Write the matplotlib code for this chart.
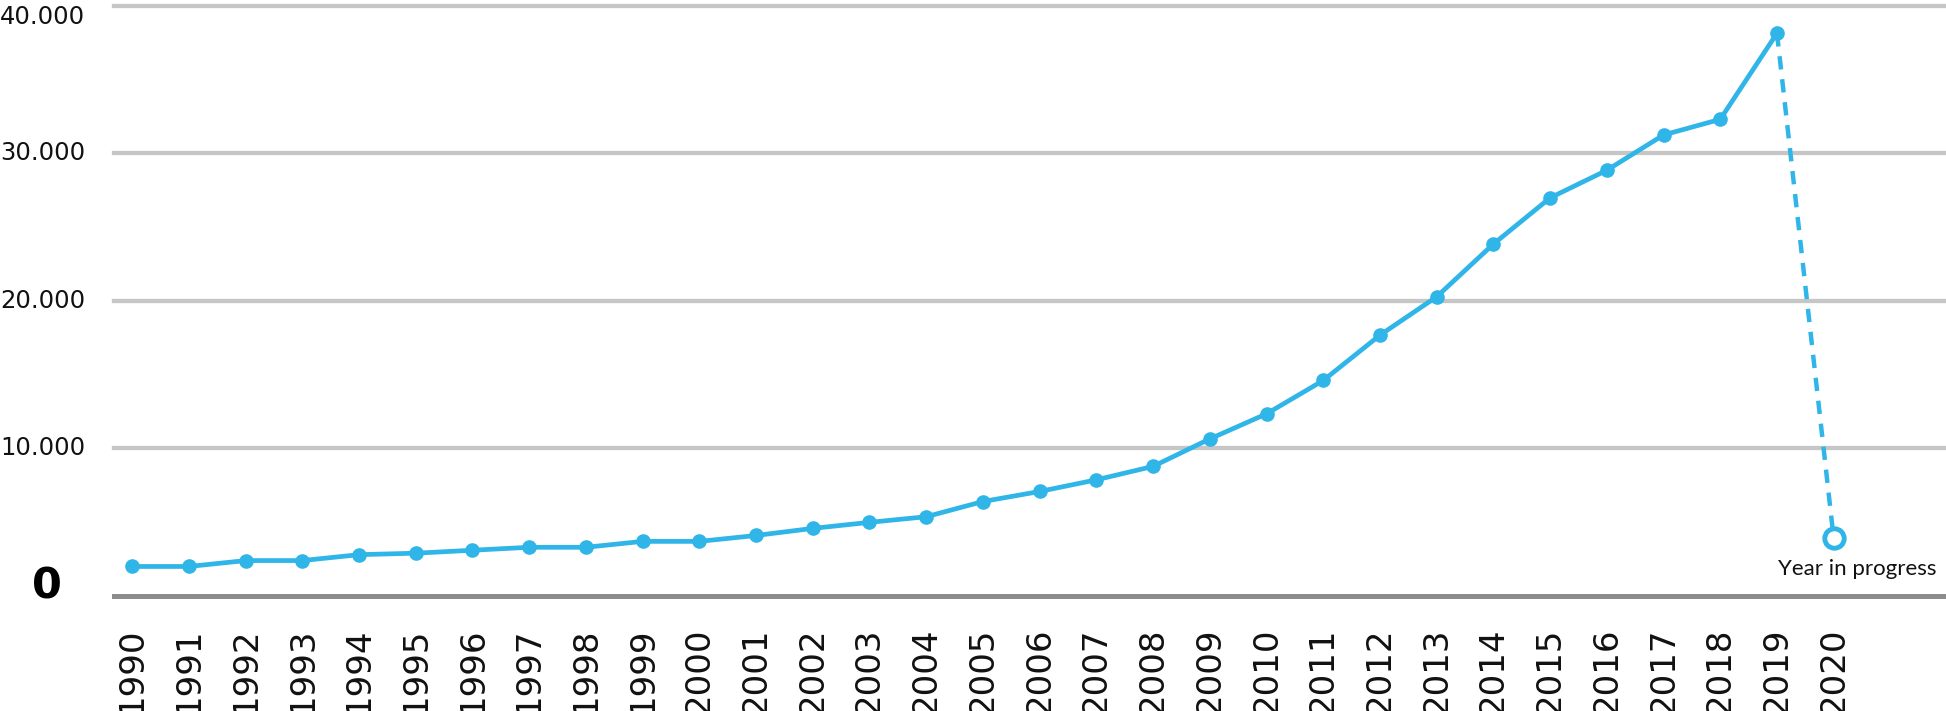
import matplotlib
matplotlib.use("Agg")
import matplotlib.pyplot as plt
from matplotlib.transforms import blended_transform_factory

# data
years = list(range(1990, 2021))
values = [2000, 2000, 2400, 2400, 2800, 2900, 3100, 3300, 3300, 3700,
          3700, 4100, 4580, 4990, 5370, 6400, 7080, 7870, 8780, 10640,
          12340, 14600, 17670, 20270, 23840, 26970, 28840, 31230, 32290, 38120,
          3900]
grid_values = [10000, 20000, 30000, 40000]
grid_labels = ["10.000", "20.000", "30.000", "40.000"]
note = "Year in progress"

BLUE = "#30b5e8"
W, H = 1946, 711

fig = plt.figure(figsize=(W / 100, H / 100), dpi=100)
ax = fig.add_axes([114 / W, (H - 596) / H, (W - 114) / W, (596 - 5.5) / H])
ax.set_xlim(1989.68, 2021.98)
ax.set_ylim(0, 40000)
for s in ax.spines.values():
    s.set_visible(False)

for g in grid_values:
    ax.axhline(g, color="#c6c6c6", lw=3.1, zorder=1, clip_on=False)
ax.axhline(0, color="#8c8c8c", lw=3.6, zorder=1, clip_on=False)

# solid line for complete years, dashed to the year in progress
ax.plot(years[:-1], values[:-1], color=BLUE, lw=3.4, marker="o", ms=9.5,
        zorder=3, clip_on=False, solid_capstyle="round")
ax.plot(years[-2:], values[-2:], color=BLUE, lw=3.2, dashes=(3, 2.2), zorder=2)
ax.plot(years[-1], values[-1], "o", ms=14, mfc="white", mec=BLUE, mew=3.5,
        zorder=4)
ax.annotate(note, (years[-1], values[-1]), xytext=(17, -22),
            textcoords="offset points", ha="center", va="center",
            fontsize=16, family="Lato", color="#111111")

ax.set_xticks(years)
ax.set_xticklabels([str(y) for y in years], rotation=90, fontsize=24.5,
                   color="#111111")
ax.tick_params(axis="x", length=0, pad=23)
ax.set_yticks([])

tr = blended_transform_factory(fig.transFigure, ax.transData)
for g, lab in zip(grid_values, grid_labels):
    # the top label sits against the upper edge of the picture
    ax.text(0, g, lab, transform=tr, ha="left",
            va="top" if g == max(grid_values) else "center",
            fontsize=17.5, color="#111111")
ax.annotate("0", (47 / W, 0), xycoords=tr, xytext=(0, 7),
            textcoords="offset points", ha="center", va="center",
            fontsize=31, fontweight="bold", color="#000000")

fig.savefig("out.png", dpi=100)
